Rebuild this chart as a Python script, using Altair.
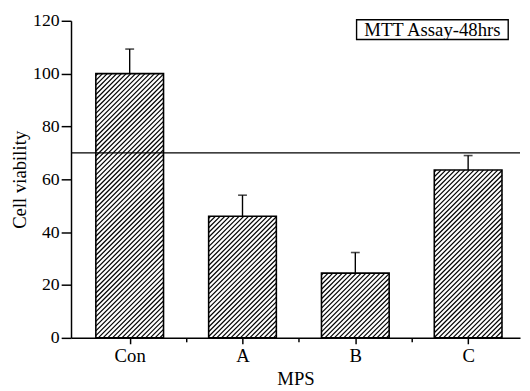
import json
import altair as alt
import pandas as pd

# ---- data ----
categories = ["Con", "A", "B", "C"]
positions = [0, 1, 2, 3]
values = [100, 46, 24.5, 63.5]
errors = [9.3, 8.0, 7.8, 5.5]
threshold = [70]
y_ticks = [0, 10, 20, 30, 40, 50, 60, 70, 80, 90, 100, 110, 120]
x_ticks = [0, 0.5, 1, 1.5, 2, 2.5, 3]
annotation = ["MTT Assay-48hrs"]

# ---- layout / style ----
W, H = 456, 322
XDOM = [-0.52, 3.46]
YDOM = [0, 120]
HALF = 0.3            # half bar width in x units
HATCH_PX = 4.8        # horizontal hatch spacing in pixels
FONT = "Liberation Serif"

sx = W / (XDOM[1] - XDOM[0])
sy = H / (YDOM[1] - YDOM[0])

bars = pd.DataFrame({"cat": categories, "pos": positions,
                     "value": values, "err": errors})
bars["x0"] = bars["pos"] - HALF
bars["x1"] = bars["pos"] + HALF
bars["upper"] = bars["value"] + bars["err"]

# diagonal hatch lines (///) clipped to each bar
rows = []
for _, r in bars.iterrows():
    bw = (r.x1 - r.x0) * sx
    bh = r.value * sy
    c = -bh + 2.0
    while c < bw:
        ua, ub = max(0.0, c), min(bw, c + bh)
        if ub > ua:
            rows.append({"hx": r.x0 + ua / sx, "hy": (ua - c) / sy,
                         "hx2": r.x0 + ub / sx, "hy2": (ub - c) / sy})
        c += HATCH_PX
hatch = pd.DataFrame(rows)

xscale = alt.Scale(domain=XDOM, nice=False, zero=False)
yscale = alt.Scale(domain=YDOM, nice=False)

label_expr = json.dumps(categories) + "[datum.value]"
x_axis = alt.Axis(
    values=x_ticks, title="MPS", grid=False,
    labelExpr=f"datum.value % 1 === 0 ? {label_expr} : ''",
    tickSize={"condition": {"test": "datum.value % 1 === 0", "value": 6}, "value": 4},
    labelOverlap=False, labelFlush=False, labelPadding=3, titlePadding=4,
    labelFontSize=19,
)
y_axis = alt.Axis(
    values=y_ticks, title="Cell viability", grid=False,
    labelExpr="datum.value % 20 === 0 ? datum.label : ''",
    tickSize={"condition": {"test": "datum.value % 20 === 0", "value": 10}, "value": 5},
    labelOverlap=False, labelFlush=False, labelPadding=2, titlePadding=3,
)

base_bars = alt.Chart(bars)

outline = base_bars.mark_rect(fill="white", fillOpacity=0, stroke="black",
                              strokeWidth=1.6).encode(
    x=alt.X("x0:Q", scale=xscale, axis=x_axis),
    x2="x1:Q",
    y=alt.Y("value:Q", scale=yscale, axis=y_axis),
    y2=alt.Y2(datum=0),
)

hatch_layer = alt.Chart(hatch).mark_rule(color="black", strokeWidth=1.25).encode(
    x=alt.X("hx:Q", scale=xscale),
    y=alt.Y("hy:Q", scale=yscale),
    x2="hx2:Q",
    y2="hy2:Q",
)

err_rule = base_bars.mark_rule(color="black", strokeWidth=1.4).encode(
    x=alt.X("pos:Q", scale=xscale),
    y=alt.Y("value:Q", scale=yscale),
    y2="upper:Q",
)

err_cap = base_bars.mark_tick(color="black", orient="horizontal", size=9,
                              thickness=1.6).encode(
    x=alt.X("pos:Q", scale=xscale),
    y=alt.Y("upper:Q", scale=yscale),
)

thr = alt.Chart(pd.DataFrame({"t": threshold})).mark_rule(
    color="black", strokeWidth=1.4).encode(
    y=alt.Y("t:Q", scale=yscale),
)

ann = pd.DataFrame({"label": annotation})
ann_box = alt.Chart(ann).mark_rect(fill="white", stroke="black",
                                   strokeWidth=1.4).encode(
    x=alt.value(290), x2=alt.value(444), y=alt.value(-1), y2=alt.value(19),
)
ann_text = alt.Chart(ann).mark_text(font=FONT, fontSize=19, color="black",
                                    align="center", baseline="middle").encode(
    x=alt.value(367), y=alt.value(9.5), text="label:N",
)

chart = alt.layer(hatch_layer, outline, err_rule, err_cap, thr, ann_box, ann_text).properties(
    width=W, height=H,
    autosize=alt.AutoSizeParams(type="none"),
    padding={"left": 64, "top": 10, "right": 2, "bottom": 53},
    background="white",
).configure_view(stroke=None).configure_axis(
    labelFont=FONT, titleFont=FONT, labelFontSize=18, titleFontSize=19,
    titleFontWeight="normal", labelColor="black", titleColor="black",
    domainColor="black", tickColor="black", domainWidth=1.5, tickWidth=1.5,
)

chart.save("out.html", embed_options={"renderer": "svg", "actions": False})
